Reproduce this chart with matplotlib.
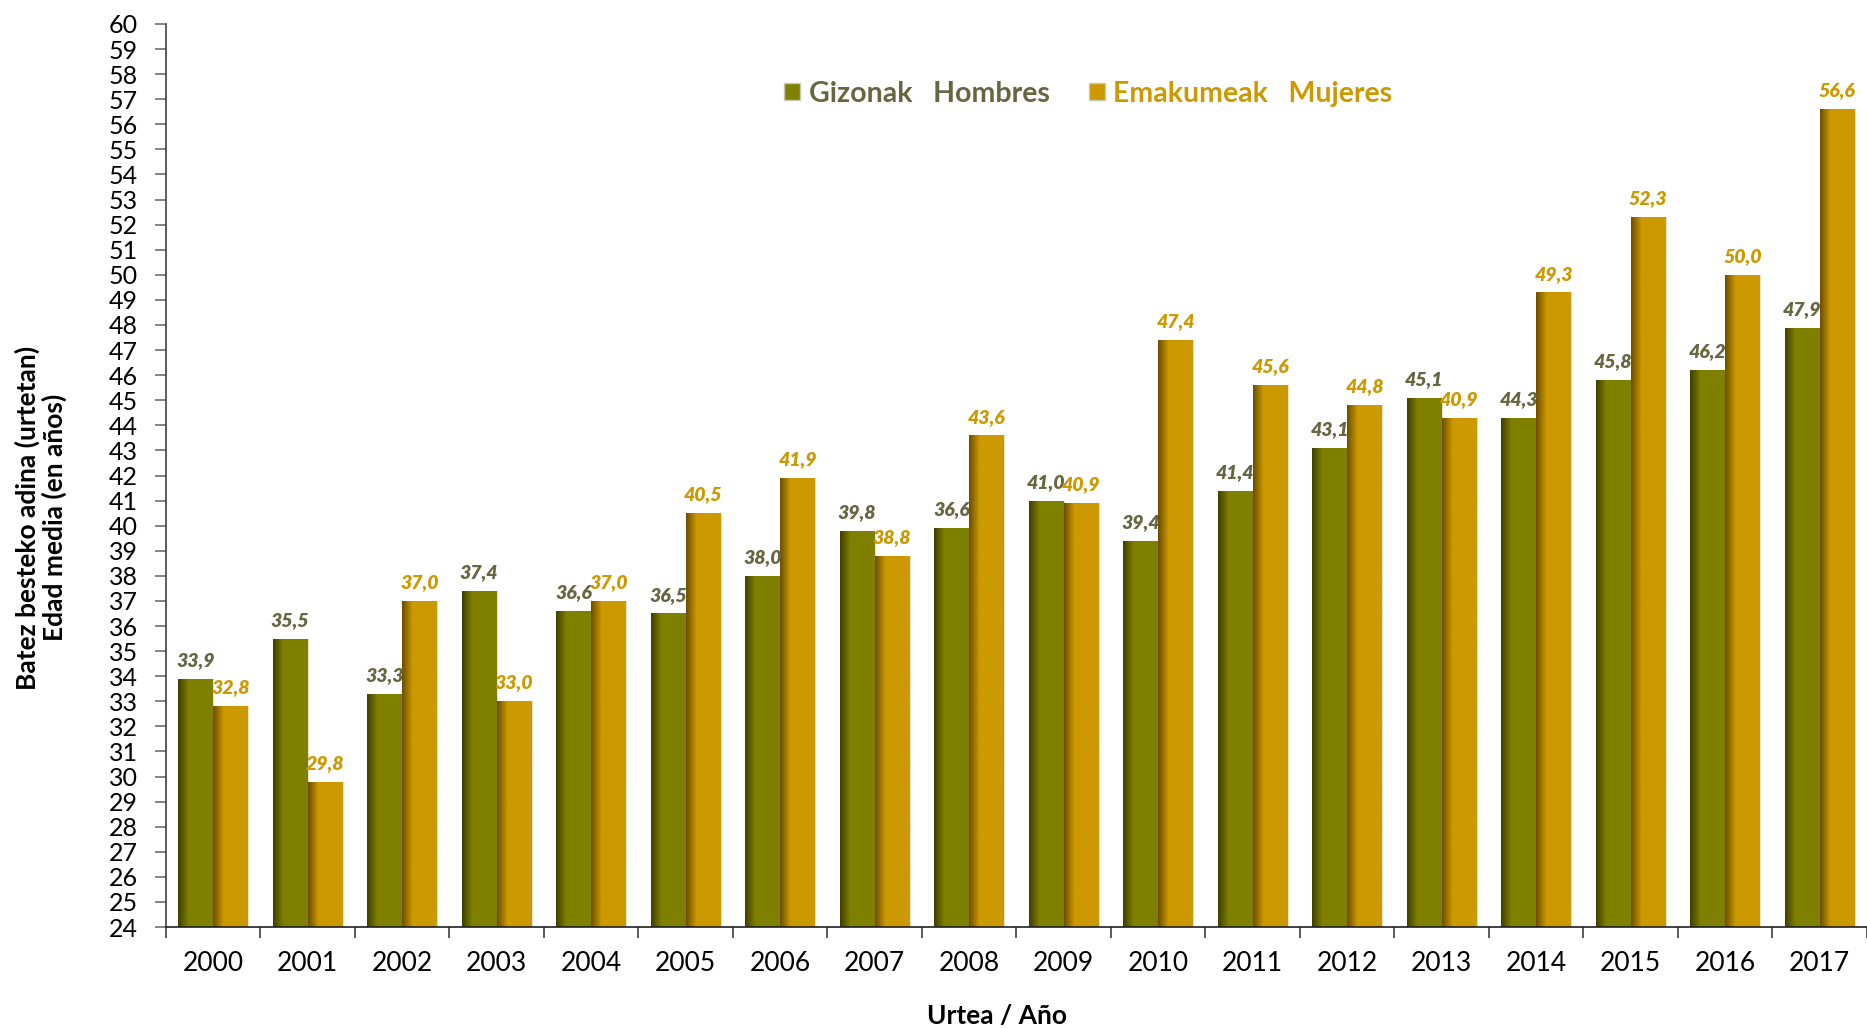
import matplotlib.pyplot as plt
import matplotlib.colors as mcolors
from matplotlib.patches import Patch
import numpy as np

plt.rcParams['font.family'] = ['Lato', 'DejaVu Sans']

# Data (bar heights) and the printed value labels
years = ['2000', '2001', '2002', '2003', '2004', '2005', '2006', '2007', '2008',
         '2009', '2010', '2011', '2012', '2013', '2014', '2015', '2016', '2017']
men = [33.9, 35.5, 33.3, 37.4, 36.6, 36.5, 38.0, 39.8, 39.9,
       41.0, 39.4, 41.4, 43.1, 45.1, 44.3, 45.8, 46.2, 47.9]
women = [32.8, 29.8, 37.0, 33.0, 37.0, 40.5, 41.9, 38.8, 43.6,
         40.9, 47.4, 45.6, 44.8, 44.3, 49.3, 52.3, 50.0, 56.6]
men_labels = ['33,9', '35,5', '33,3', '37,4', '36,6', '36,5', '38,0', '39,8', '36,6',
              '41,0', '39,4', '41,4', '43,1', '45,1', '44,3', '45,8', '46,2', '47,9']
women_labels = ['32,8', '29,8', '37,0', '33,0', '37,0', '40,5', '41,9', '38,8', '43,6',
                '40,9', '47,4', '45,6', '44,8', '40,9', '49,3', '52,3', '50,0', '56,6']

men_col, men_dark, men_txt = '#808000', '#404000', '#666640'
wom_col, wom_dark, wom_txt = '#cc9900', '#6e4f00', '#cc9900'

fig = plt.figure(figsize=(18.67, 10.29), dpi=100)
ax = fig.add_axes([0.0888, 0.0991, 0.9112, 0.8776])

x = np.arange(len(years))
w = 0.37
ymin = 24


def shaded_bars(xpos, vals, col, dark):
    bars = ax.bar(xpos, np.array(vals) - ymin, w, bottom=ymin, color=col,
                  edgecolor='#e6e2c8', linewidth=0.8, zorder=2)
    cmap = mcolors.LinearSegmentedColormap.from_list(
        'g', [(0, dark), (0.3, col), (1, col)])
    grad = np.linspace(0, 1, 64).reshape(1, -1)
    for b in bars:
        x0, y0 = b.get_x(), b.get_y()
        im = ax.imshow(grad, cmap=cmap, aspect='auto', zorder=2.5,
                       extent=[x0, x0 + b.get_width(), y0, y0 + b.get_height()])
        im.set_clip_path(b)
    return bars


bm = shaded_bars(x - w / 2, men, men_col, men_dark)
bw = shaded_bars(x + w / 2, women, wom_col, wom_dark)

for b, lab in zip(bm, men_labels):
    ax.annotate(lab, (b.get_x() + b.get_width() / 2, b.get_y() + b.get_height()),
                xytext=(0, 7), textcoords='offset points', ha='center', va='bottom',
                fontsize=14, fontweight='heavy', fontstyle='italic', color=men_txt, zorder=4)
for b, lab in zip(bw, women_labels):
    ax.annotate(lab, (b.get_x() + b.get_width() / 2, b.get_y() + b.get_height()),
                xytext=(0, 7), textcoords='offset points', ha='center', va='bottom',
                fontsize=14, fontweight='heavy', fontstyle='italic', color=wom_txt, zorder=4)

ax.set_xlim(-0.5, len(years) - 0.5)
ax.set_ylim(ymin, 60)
ax.set_yticks(range(24, 61))
ax.tick_params(axis='y', labelsize=18, length=8, width=1.2, color='#707070', pad=12)

ax.set_xticks(x)
ax.set_xticklabels(years)
ax.set_xticks(np.arange(-0.5, len(years), 1), minor=True)
ax.tick_params(axis='x', which='major', length=0, labelsize=19, pad=17)
ax.tick_params(axis='x', which='minor', length=8, width=1.2, color='#404040')

for s in ['top', 'right']:
    ax.spines[s].set_visible(False)
ax.spines['left'].set_color('#404040')
ax.spines['left'].set_linewidth(1.2)
ax.spines['bottom'].set_color('#202020')
ax.spines['bottom'].set_linewidth(1.2)

fig.text(0.534, 0.013, 'Urtea / Año', ha='center', va='center',
         fontsize=19, fontweight='bold')
fig.text(0.022, 0.497, 'Batez besteko adina (urtetan)\nEdad media (en años)',
         rotation=90, ha='center', va='center', fontsize=19, fontweight='bold',
         linespacing=1.1)

handles = [Patch(facecolor=men_col, edgecolor='#c8c8b0'),
           Patch(facecolor=wom_col, edgecolor='#c8c8b0')]
leg = fig.legend(handles, ['Gizonak   Hombres', 'Emakumeak   Mujeres'],
                 loc='center', bbox_to_anchor=(0.583, 0.909), ncol=2, frameon=False,
                 handlelength=0.55, handleheight=0.55, handletextpad=0.3,
                 columnspacing=1.4, prop={'size': 20.5, 'weight': 'bold'})
for t, c in zip(leg.get_texts(), [men_txt, wom_txt]):
    t.set_color(c)

fig.savefig('out.png', dpi=100)
